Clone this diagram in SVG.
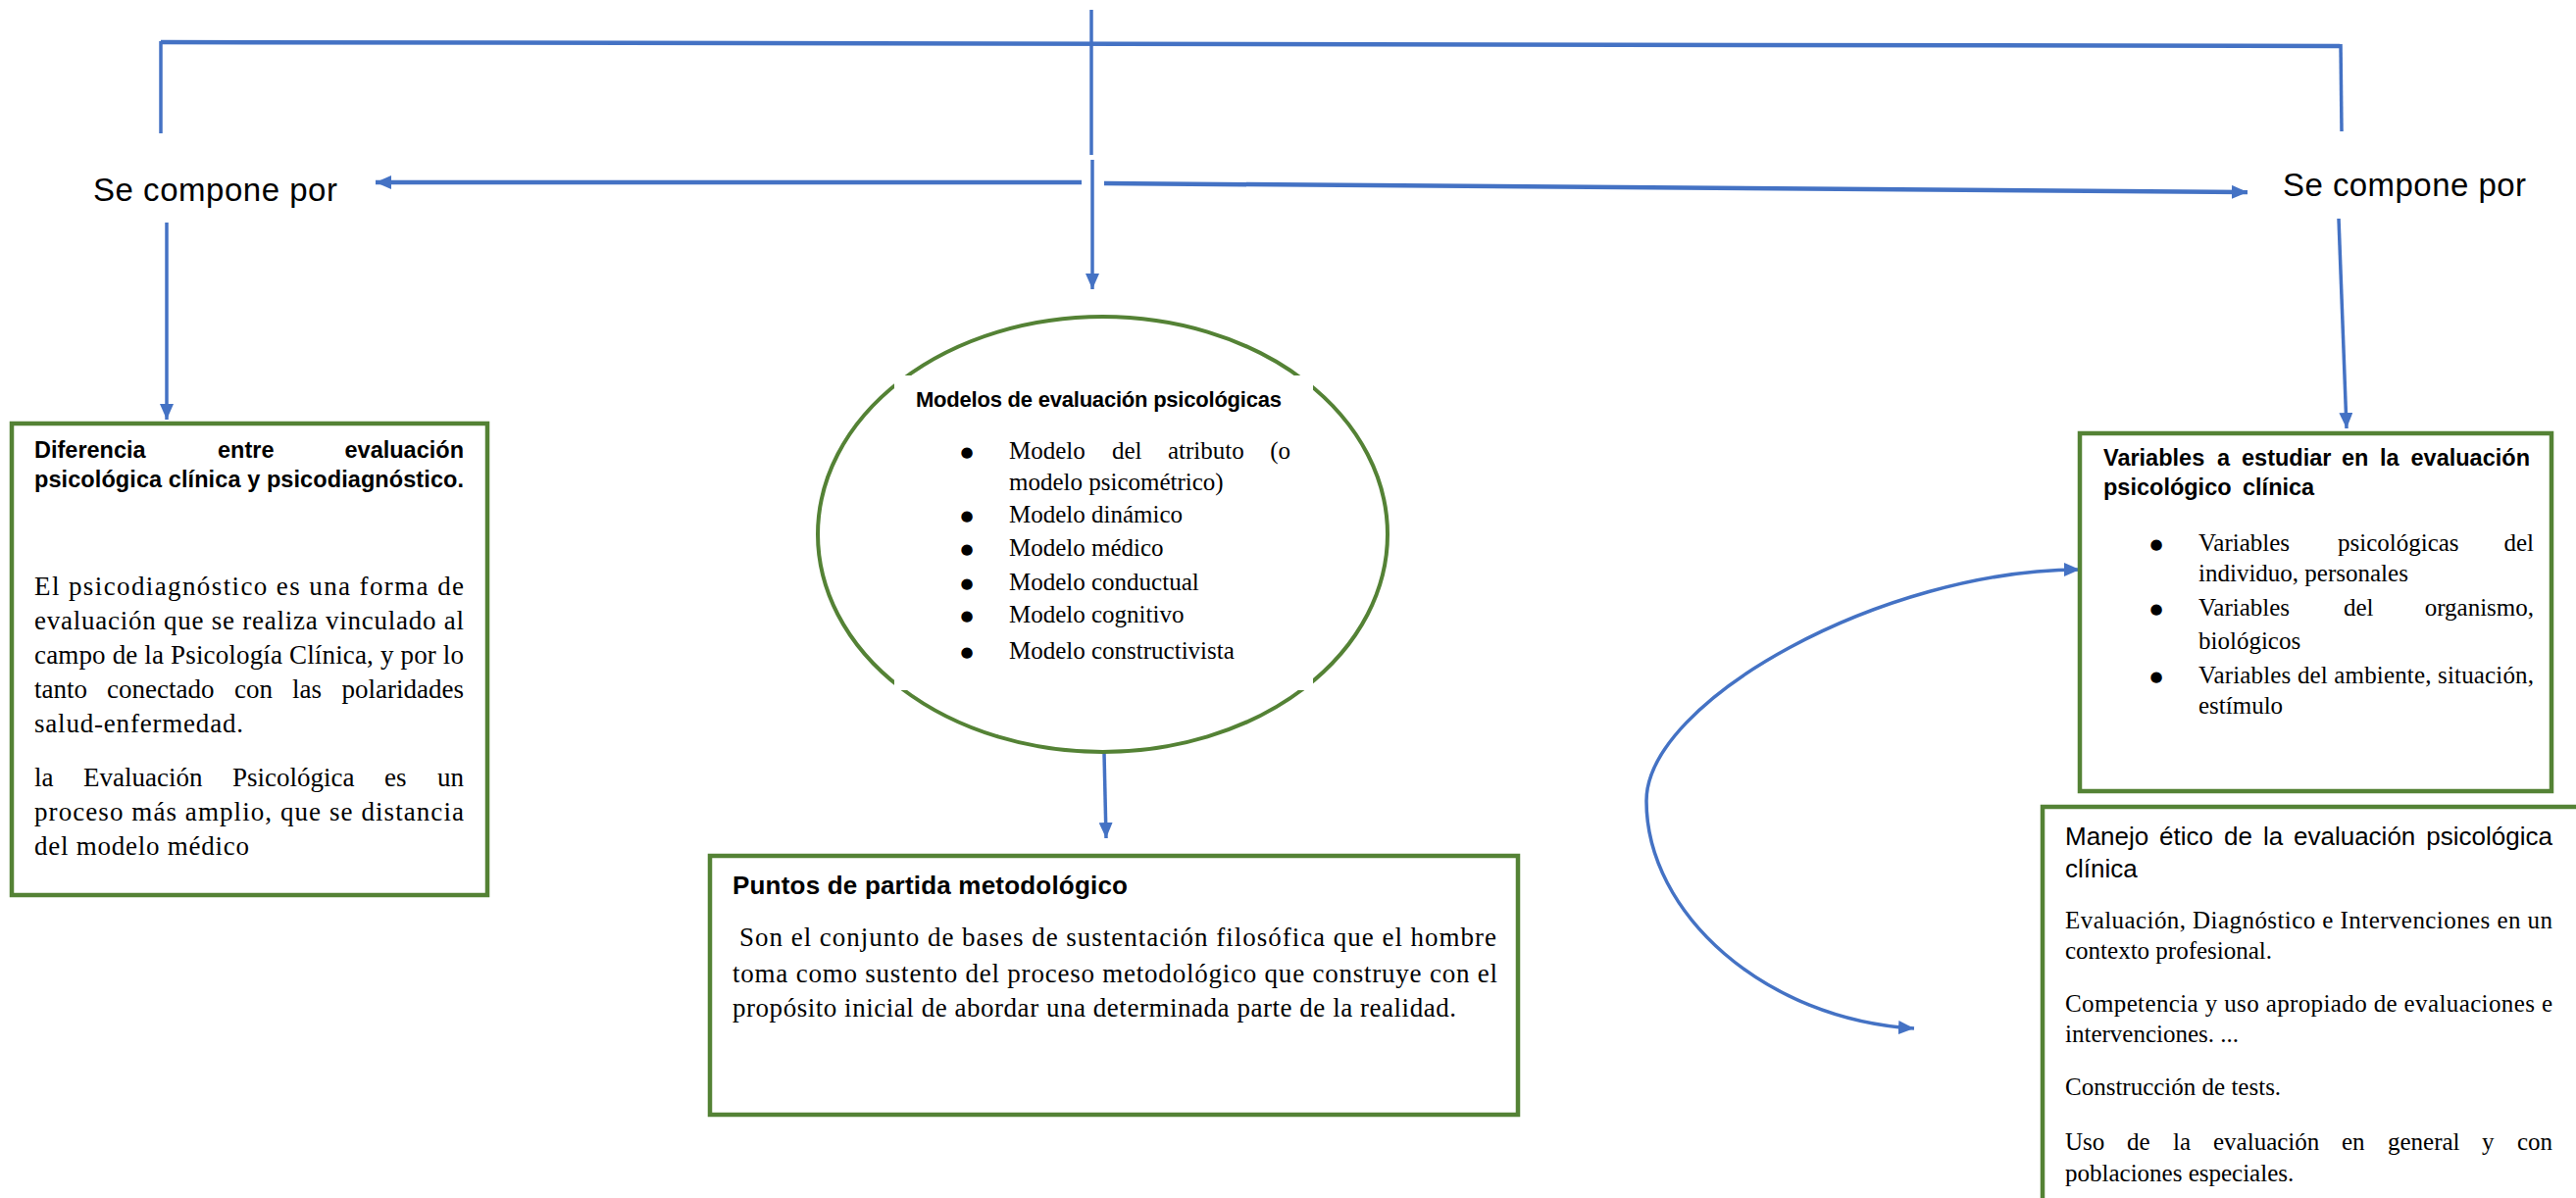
<svg xmlns="http://www.w3.org/2000/svg" width="2627" height="1222" viewBox="0 0 2627 1222">
<style>
.bg{fill:#ffffff}
.box{fill:#ffffff;stroke:#548235;stroke-width:4.5}
.ell{fill:#ffffff;stroke:#548235;stroke-width:4}
.ln{fill:none;stroke:#4472C4;stroke-width:3.5}
.lnT{fill:none;stroke:#4472C4;stroke-width:4.5}
.lbl{font-family:"Liberation Sans",Arial,sans-serif;font-size:33px;fill:#000}
.tb23{font-family:"Liberation Sans",Arial,sans-serif;font-weight:bold;font-size:23.5px;fill:#000}
.tb22{font-family:"Liberation Sans",Arial,sans-serif;font-weight:bold;font-size:22px;fill:#000}
.tb26{font-family:"Liberation Sans",Arial,sans-serif;font-weight:bold;font-size:26px;fill:#000}
.tr26{font-family:"Liberation Sans",Arial,sans-serif;font-size:26px;fill:#000}
.s27{font-family:"Liberation Serif","Times New Roman",serif;font-size:27px;fill:#000}
.s25{font-family:"Liberation Serif","Times New Roman",serif;font-size:25px;fill:#000}
.bul{font-family:"DejaVu Sans",sans-serif;font-size:15px;fill:#000;text-anchor:middle}
.end{text-anchor:end}
</style>
<defs>
<marker id="ah" markerUnits="userSpaceOnUse" markerWidth="16" markerHeight="14" refX="16" refY="7" orient="auto-start-reverse">
<path d="M0,0 L16,7 L0,14 z" fill="#4472C4"/>
</marker>
</defs>
<rect class="bg" x="0" y="0" width="2627" height="1222"/>

<g id="connectors">
<line class="ln" x1="1113" y1="10" x2="1113" y2="158"/>
<polyline class="lnT" points="164,43 2386,47"/>
<line class="ln" x1="164" y1="42" x2="164" y2="136"/>
<line class="ln" x1="2387" y1="45" x2="2388" y2="134"/>
<line class="ln" x1="1114" y1="163" x2="1114" y2="295" marker-end="url(#ah)"/>
<line class="lnT" x1="1103" y1="186" x2="383" y2="186" marker-end="url(#ah)"/>
<line class="lnT" x1="1126" y1="187" x2="2292" y2="196" marker-end="url(#ah)"/>
<line class="ln" x1="170" y1="227" x2="170" y2="428" marker-end="url(#ah)"/>
<line class="ln" x1="2385" y1="223" x2="2393" y2="437" marker-end="url(#ah)"/>
<line class="ln" x1="1126" y1="768" x2="1128" y2="855" marker-end="url(#ah)"/>
<path class="ln" d="M2121,581 C1920,581 1679,715 1679,817 C1679,932 1800,1040 1952,1049" marker-start="url(#ah)" marker-end="url(#ah)"/>
</g>

<g id="label-left">
<text class="lbl" x="95" y="205" textLength="249">Se compone por</text>
</g>
<g id="label-right">
<text class="lbl" x="2328" y="200" textLength="248">Se compone por</text>
</g>

<g id="node-diferencia">
<rect class="box" x="12" y="432" width="485" height="481"/>
<text class="tb23" x="35" y="467">Diferencia</text>
<text class="tb23" x="222" y="467">entre</text>
<text class="tb23 end" x="473" y="467">evaluación</text>
<text class="tb23" x="35" y="497" textLength="438">psicológica clínica y psicodiagnóstico.</text>
<text class="s27" x="35" y="607" textLength="438">El psicodiagnóstico es una forma de</text>
<text class="s27" x="35" y="642" textLength="438">evaluación que se realiza vinculado al</text>
<text class="s27" x="35" y="677" textLength="438">campo de la Psicología Clínica, y por lo</text>
<text class="s27" x="35" y="712">tanto</text>
<text class="s27" x="109" y="712">conectado</text>
<text class="s27" x="239" y="712">con</text>
<text class="s27" x="298" y="712">las</text>
<text class="s27 end" x="473" y="712">polaridades</text>
<text class="s27" x="35" y="747" textLength="213">salud-enfermedad.</text>
<text class="s27" x="35" y="802">la</text>
<text class="s27" x="85" y="802">Evaluación</text>
<text class="s27" x="237" y="802">Psicológica</text>
<text class="s27" x="392" y="802">es</text>
<text class="s27 end" x="473" y="802">un</text>
<text class="s27" x="35" y="837" textLength="438">proceso más amplio, que se distancia</text>
<text class="s27" x="35" y="872" textLength="219">del modelo médico</text>
</g>

<g id="node-modelos">
<ellipse class="ell" cx="1124.5" cy="545" rx="290.5" ry="222"/>
<rect x="912" y="383" width="427" height="321" fill="#ffffff"/>
<text class="tb22" x="934" y="415" textLength="373">Modelos de evaluación psicológicas</text>
<text class="bul" x="986" y="466">●</text>
<text class="s25" x="1029" y="468">Modelo</text>
<text class="s25" x="1134" y="468">del</text>
<text class="s25" x="1191" y="468">atributo</text>
<text class="s25 end" x="1316" y="468">(o</text>
<text class="s25" x="1029" y="500">modelo psicométrico)</text>
<text class="bul" x="986" y="531">●</text>
<text class="s25" x="1029" y="533">Modelo dinámico</text>
<text class="bul" x="986" y="565">●</text>
<text class="s25" x="1029" y="567">Modelo médico</text>
<text class="bul" x="986" y="600">●</text>
<text class="s25" x="1029" y="602">Modelo conductual</text>
<text class="bul" x="986" y="633">●</text>
<text class="s25" x="1029" y="635">Modelo cognitivo</text>
<text class="bul" x="986" y="670">●</text>
<text class="s25" x="1029" y="672">Modelo constructivista</text>
</g>

<g id="node-puntos">
<rect class="box" x="724" y="873" width="824" height="264"/>
<text class="tb26" x="747" y="912" textLength="403">Puntos de partida metodológico</text>
<text class="s27" x="754" y="965" textLength="772">Son el conjunto de bases de sustentación filosófica que el hombre</text>
<text class="s27" x="747" y="1002" textLength="780">toma como sustento del proceso metodológico que construye con el</text>
<text class="s27" x="747" y="1037" textLength="738">propósito inicial de abordar una determinada parte de la realidad.</text>
</g>

<g id="node-variables">
<rect class="box" x="2121" y="442" width="481" height="365"/>
<text class="tb23" x="2145" y="475">Variables</text>
<text class="tb23" x="2261" y="475">a</text>
<text class="tb23" x="2286" y="475">estudiar</text>
<text class="tb23" x="2388" y="475">en</text>
<text class="tb23" x="2427" y="475">la</text>
<text class="tb23 end" x="2580" y="475">evaluación</text>
<text class="tb23" x="2145" y="505">psicológico</text>
<text class="tb23" x="2287" y="505">clínica</text>
<text class="bul" x="2199" y="560">●</text>
<text class="s25" x="2242" y="562">Variables</text>
<text class="s25" x="2384" y="562">psicológicas</text>
<text class="s25 end" x="2584" y="562">del</text>
<text class="s25" x="2242" y="593">individuo, personales</text>
<text class="bul" x="2199" y="626">●</text>
<text class="s25" x="2242" y="628">Variables</text>
<text class="s25" x="2390" y="628">del</text>
<text class="s25 end" x="2584" y="628">organismo,</text>
<text class="s25" x="2242" y="662">biológicos</text>
<text class="bul" x="2199" y="695">●</text>
<text class="s25" x="2242" y="697" textLength="342">Variables del ambiente, situación,</text>
<text class="s25" x="2242" y="728">estímulo</text>
</g>

<g id="node-manejo">
<rect class="box" x="2083" y="823" width="600" height="450"/>
<text class="tr26" x="2106" y="862">Manejo</text>
<text class="tr26" x="2202" y="862">ético</text>
<text class="tr26" x="2268" y="862">de</text>
<text class="tr26" x="2308" y="862">la</text>
<text class="tr26" x="2339" y="862">evaluación</text>
<text class="tr26 end" x="2603" y="862">psicológica</text>
<text class="tr26" x="2106" y="895">clínica</text>
<text class="s25" x="2106" y="947" textLength="497">Evaluación, Diagnóstico e Intervenciones en un</text>
<text class="s25" x="2106" y="978">contexto profesional.</text>
<text class="s25" x="2106" y="1032" textLength="497">Competencia y uso apropiado de evaluaciones e</text>
<text class="s25" x="2106" y="1063">intervenciones. ...</text>
<text class="s25" x="2106" y="1117">Construcción de tests.</text>
<text class="s25" x="2106" y="1173">Uso</text>
<text class="s25" x="2169" y="1173">de</text>
<text class="s25" x="2216" y="1173">la</text>
<text class="s25" x="2257" y="1173">evaluación</text>
<text class="s25" x="2388" y="1173">en</text>
<text class="s25" x="2435" y="1173">general</text>
<text class="s25" x="2531" y="1173">y</text>
<text class="s25 end" x="2603" y="1173">con</text>
<text class="s25" x="2106" y="1205">poblaciones especiales.</text>
</g>
</svg>
